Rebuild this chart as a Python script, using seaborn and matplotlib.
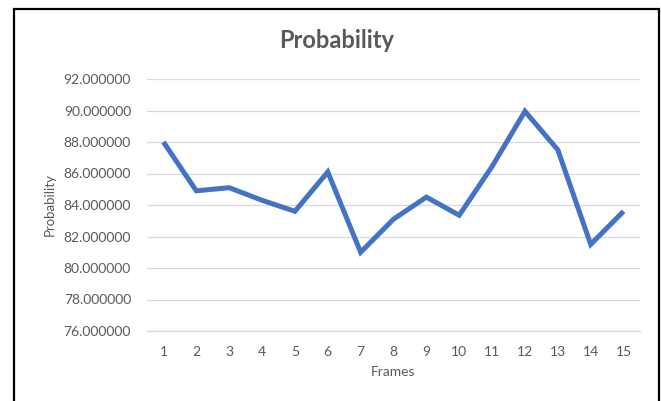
import matplotlib
matplotlib.use("Agg")
import matplotlib.pyplot as plt
import seaborn as sns
import pandas as pd
import numpy as np
from matplotlib.patches import Rectangle
from matplotlib.ticker import FixedLocator, FormatStrFormatter

frames = list(range(1, 16))
probability = [88.0, 84.9, 85.1, 84.3, 83.6, 86.1, 81.0, 83.1, 84.5, 83.35,
               86.45, 89.95, 87.5, 81.5, 83.6]
y_ticks = [76, 78, 80, 82, 84, 86, 88, 90, 92]

df = pd.DataFrame({"Frames": frames, "Probability": probability})

sns.set_theme(style="white")
plt.rcParams["font.family"] = ["Lato", "DejaVu Sans"]

text_color = "#595959"
grid_color = "#D9D9D9"

fig = plt.figure(figsize=(6.61, 4.01), dpi=100)
ax = fig.add_axes([147 / 661, 1 - 331 / 401, (640 - 147) / 661, (331 - 79) / 401])

sns.lineplot(data=df, x="Frames", y="Probability", ax=ax, color="#4472C4",
             linewidth=3.6, solid_joinstyle="miter", solid_capstyle="butt", zorder=3)

ax.set_xlim(0.5, 15.5)
ax.set_ylim(76, 92)
ax.yaxis.set_major_locator(FixedLocator(y_ticks))
ax.yaxis.set_major_formatter(FormatStrFormatter("%.6f"))
ax.grid(axis="y", color=grid_color, linewidth=0.9, zorder=0)
ax.grid(axis="x", visible=False)

# x ticks: labels at categories, tick marks at boundaries
ax.set_xticks(frames)
ax.set_xticklabels([str(f) for f in frames])
ax.set_xticks(np.arange(0.5, 16, 1.0), minor=True)
ax.tick_params(axis="x", which="major", length=0, pad=10.5, labelsize=10, labelcolor=text_color)
ax.tick_params(axis="x", which="minor", length=5, width=0.9, color=grid_color, direction="out")
ax.tick_params(axis="y", length=0, pad=11.5, labelsize=10, labelcolor=text_color)

for s in ["top", "right", "left"]:
    ax.spines[s].set_visible(False)
ax.spines["bottom"].set_color(grid_color)
ax.spines["bottom"].set_linewidth(0.9)

ax.set_xlabel("Frames", fontsize=10, color=text_color, labelpad=6)
ax.set_ylabel("Probability", fontsize=9.5, color=text_color, labelpad=6)

fig.text(337 / 661, 1 - 41 / 401, "Probability", ha="center", va="center",
         fontsize=17, fontweight="bold", color=text_color)

border = Rectangle((14 / 661, -0.02), (659 - 14) / 661, 1 - 9 / 401 + 0.02,
                   transform=fig.transFigure, fill=False, edgecolor="black",
                   linewidth=1.6, zorder=10)
fig.patches.append(border)

fig.savefig("out.png", dpi=100)
